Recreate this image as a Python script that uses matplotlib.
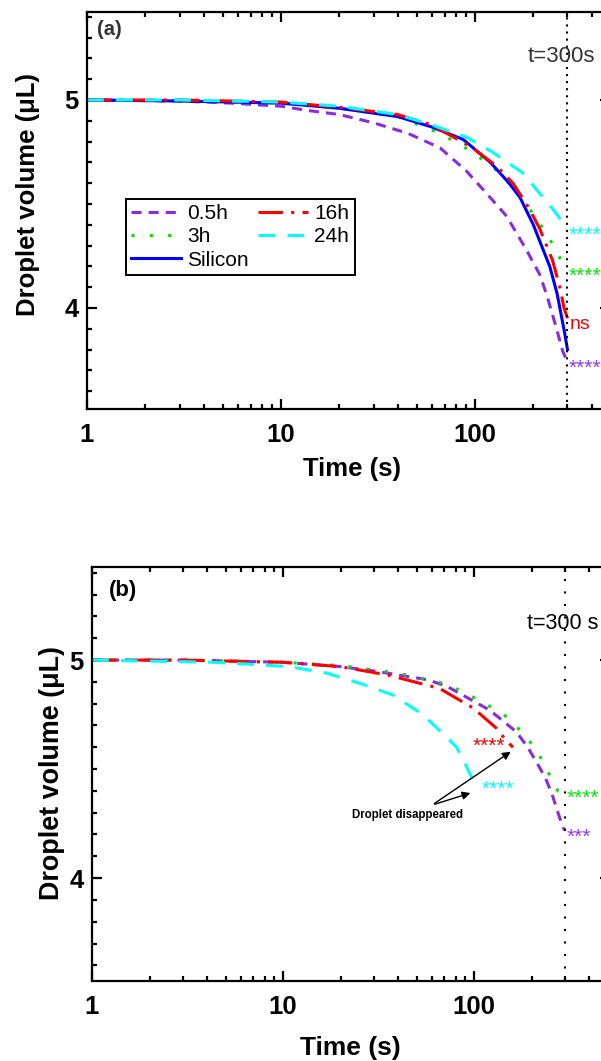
import numpy as np
import matplotlib
matplotlib.use("Agg")
import matplotlib.pyplot as plt
from matplotlib.ticker import FixedLocator, LogLocator, MultipleLocator, NullFormatter

plt.rcParams['font.family'] = ['Liberation Sans', 'DejaVu Sans']

# ---- panel (a) data: volume (uL) vs time (s)
t_05a = [1, 3, 5.5, 10, 13.6, 20, 30, 45, 66, 90, 115, 146, 184, 216, 235, 258, 284, 300]
v_05a = [5.0, 4.995, 4.985, 4.97, 4.95, 4.93, 4.89, 4.84, 4.77, 4.66, 4.55, 4.44, 4.28, 4.16, 4.06, 3.93, 3.79, 3.74]
t_3a = [1, 3, 10, 20, 40, 66, 97, 130, 171, 200, 229, 258, 284, 300]
v_3a = [5.0, 4.995, 4.985, 4.96, 4.92, 4.84, 4.75, 4.66, 4.54, 4.45, 4.37, 4.29, 4.21, 4.18]
t_16a = [1, 3, 10, 20, 40, 60, 97, 130, 157, 190, 216, 251, 274, 288, 300]
v_16a = [5.0, 5.0, 4.99, 4.965, 4.93, 4.88, 4.77, 4.68, 4.60, 4.48, 4.38, 4.23, 4.10, 4.00, 3.95]
t_24a = [1, 3, 10, 20, 40, 60, 91, 123, 176, 216, 240, 265, 290, 300]
v_24a = [5.0, 5.0, 4.99, 4.97, 4.93, 4.88, 4.82, 4.75, 4.65, 4.55, 4.50, 4.45, 4.39, 4.38]
t_si = [1, 3, 10, 20, 40, 60, 87, 120, 150, 171, 200, 216, 243, 265, 274, 290, 300]
v_si = [5.0, 4.995, 4.985, 4.96, 4.92, 4.87, 4.81, 4.70, 4.60, 4.53, 4.40, 4.32, 4.20, 4.07, 4.00, 3.88, 3.80]

# ---- panel (b) data
t_05b = [1, 3, 10, 20, 30, 57, 72, 121, 167, 191, 213, 236, 255, 275, 293, 300]
v_05b = [5.0, 5.0, 4.99, 4.97, 4.95, 4.91, 4.88, 4.77, 4.67, 4.60, 4.53, 4.46, 4.39, 4.30, 4.23, 4.22]
t_3b = [1, 3, 10, 20, 40, 72, 110, 148, 178, 212, 243, 275, 300]
v_3b = [5.0, 5.0, 4.99, 4.975, 4.94, 4.89, 4.81, 4.74, 4.67, 4.59, 4.49, 4.40, 4.39]
t_16b = [1, 3, 10, 20, 36, 66, 99, 130, 148, 160]
v_16b = [5.0, 5.0, 4.99, 4.97, 4.93, 4.87, 4.78, 4.69, 4.63, 4.60]
t_24b = [1, 4.3, 7, 10.8, 17, 26, 37.6, 54, 75, 81, 88, 95, 100]
v_24b = [5.0, 4.99, 4.98, 4.97, 4.94, 4.89, 4.84, 4.75, 4.63, 4.60, 4.54, 4.48, 4.44]

# significance labels: (time, volume, text, colour)
sig_a = [(304, 4.38, '****', 'cyan'), (304, 4.18, '****', '#00ee00'),
         (304, 3.92, 'ns', 'red'), (304, 3.74, '****', '#9933ff')]
sig_b = [(98, 4.633, '****', 'red'), (110, 4.436, '****', 'cyan'),
         (304, 4.395, '****', '#00ee00'), (304, 4.216, '***', '#9933ff')]

purple = '#8a2be2'
green = '#00e000'
red = '#ff0000'
cyan = '#00ffff'
blue = '#0000ff'
lw = 2.2

styles = {
    '0.5h': dict(color=purple, dashes=(3.3, 2.3)),
    '3h': dict(color=green, dashes=(1, 5)),
    '16h': dict(color=red, dashes=(8, 2.7, 1, 2.7)),
    '24h': dict(color=cyan, dashes=(5.5, 4)),
    'Silicon': dict(color=blue, linestyle='-'),
}

fig = plt.figure(figsize=(6.01, 10.61), dpi=100)
ax1 = fig.add_axes([87/601, 1-409/1061, (610-87)/601, 397/1061])
ax2 = fig.add_axes([92/601, 1-981/1061, (610-92)/601, 414/1061])


def style_axes(ax, xmax, ylo, yhi):
    ax.set_xscale('log')
    ax.set_xlim(1, xmax)
    ax.set_ylim(ylo, yhi)
    for s in ax.spines.values():
        s.set_linewidth(1.6)
    ax.xaxis.set_major_locator(FixedLocator([1, 10, 100]))
    ax.xaxis.set_minor_locator(LogLocator(base=10, subs=np.arange(2, 10)))
    ax.xaxis.set_minor_formatter(NullFormatter())
    ax.set_xticklabels(['1', '10', '100'])
    ax.yaxis.set_major_locator(FixedLocator([4, 5]))
    ax.yaxis.set_minor_locator(MultipleLocator(0.1))
    ax.set_yticklabels(['4', '5'])
    ax.tick_params(which='both', direction='in', top=True, right=True, width=1.6)
    ax.tick_params(which='major', length=7)
    ax.tick_params(which='minor', length=3.6)
    ax.tick_params(axis='x', pad=10)
    ax.tick_params(axis='y', pad=6)
    for lab in ax.get_xticklabels() + ax.get_yticklabels():
        lab.set_fontsize(18.5)
        lab.set_fontweight('bold')


def sig_text(ax, tx, vy, s, c):
    # stars sit high in the glyph box, so drop them to centre on the line level
    if s == 'ns':
        ax.annotate(s, (tx, vy), xytext=(1, 0), textcoords='offset points',
                    color=c, fontsize=14, ha='left', va='center')
    else:
        ax.annotate(s, (tx, vy), xytext=(0, -8.5), textcoords='offset points',
                    color=c, fontsize=15, ha='left', va='baseline')


# ---- panel (a)
style_axes(ax1, 497, 3.514, 5.423)
h = {}
h['0.5h'], = ax1.plot(t_05a, v_05a, lw=lw, label='0.5h', **styles['0.5h'])
h['3h'], = ax1.plot(t_3a, v_3a, lw=lw, label='3h', **styles['3h'])
h['Silicon'], = ax1.plot(t_si, v_si, lw=lw, label='Silicon', **styles['Silicon'])
h['16h'], = ax1.plot(t_16a, v_16a, lw=lw, label='16h', **styles['16h'])
h['24h'], = ax1.plot(t_24a, v_24a, lw=lw, label='24h', **styles['24h'])
ax1.axvline(300, color='black', lw=1.5, linestyle=(0, (1, 2.4)))
for tx, vy, s, c in sig_a:
    sig_text(ax1, tx, vy, s, c)
ax1.text(1.31, 5.34, '(a)', fontsize=14.5, fontweight='bold', ha='center', va='center', color='#333333')
ax1.text(188, 5.21, 't=300s', fontsize=16, ha='left', va='center', color='#333333')
leg = ax1.legend([h['0.5h'], h['3h'], h['Silicon'], h['16h'], h['24h']],
                 ['0.5h', '3h', 'Silicon', '16h', '24h'], ncol=2,
                 loc='upper left', bbox_to_anchor=(0.0746, 0.529), borderaxespad=0,
                 fontsize=15, handlelength=2.4, handletextpad=0.29, columnspacing=0.45,
                 labelspacing=0.2, borderpad=0.25, fancybox=False, framealpha=1)
leg.get_frame().set_edgecolor('black')
leg.get_frame().set_linewidth(1.4)
ax1.set_xlabel('Time (s)', fontsize=18.5, fontweight='bold')
ax1.xaxis.set_label_coords((352-87)/523, (409-469)/397)
ax1.xaxis.label.set_va('center')
ax1.set_ylabel('Droplet volume (μL)', fontsize=18.5, fontweight='bold')
ax1.yaxis.set_label_coords((28-87)/523, (409-195)/397)
ax1.yaxis.label.set_va('center')

# ---- panel (b)
style_axes(ax2, 515, 3.528, 5.427)
ax2.plot(t_05b, v_05b, lw=lw, **styles['0.5h'])
ax2.plot(t_3b, v_3b, lw=lw, **styles['3h'])
ax2.plot(t_16b, v_16b, lw=lw, **styles['16h'])
ax2.plot(t_24b, v_24b, lw=lw, **styles['24h'])
ax2.axvline(300, color='black', lw=1.5, linestyle=(0, (1, 5)))
for tx, vy, s, c in sig_b:
    sig_text(ax2, tx, vy, s, c)
ax2.text(1.45, 5.32, '(b)', fontsize=16, fontweight='bold', ha='center', va='center')
ax2.text(190, 5.17, 't=300 s', fontsize=15.5, ha='left', va='center')
for tip in [(160, 4.587), (98.8, 4.394)]:
    ax2.annotate('', xy=tip, xytext=(60.3, 4.335),
                 arrowprops=dict(arrowstyle='-|>', color='black', lw=1, mutation_scale=12))
ax2.text(45, 4.289, 'Droplet disappeared', fontsize=8.3, fontweight='bold', ha='center', va='center')
ax2.set_xlabel('Time (s)', fontsize=19, fontweight='bold')
ax2.xaxis.set_label_coords((350-92)/518, (981-1048)/414)
ax2.xaxis.label.set_va('center')
ax2.set_ylabel('Droplet volume (μL)', fontsize=19.4, fontweight='bold')
ax2.yaxis.set_label_coords((52-92)/518, (981-773)/414)
ax2.yaxis.label.set_va('center')

fig.savefig('out.png', dpi=100)
